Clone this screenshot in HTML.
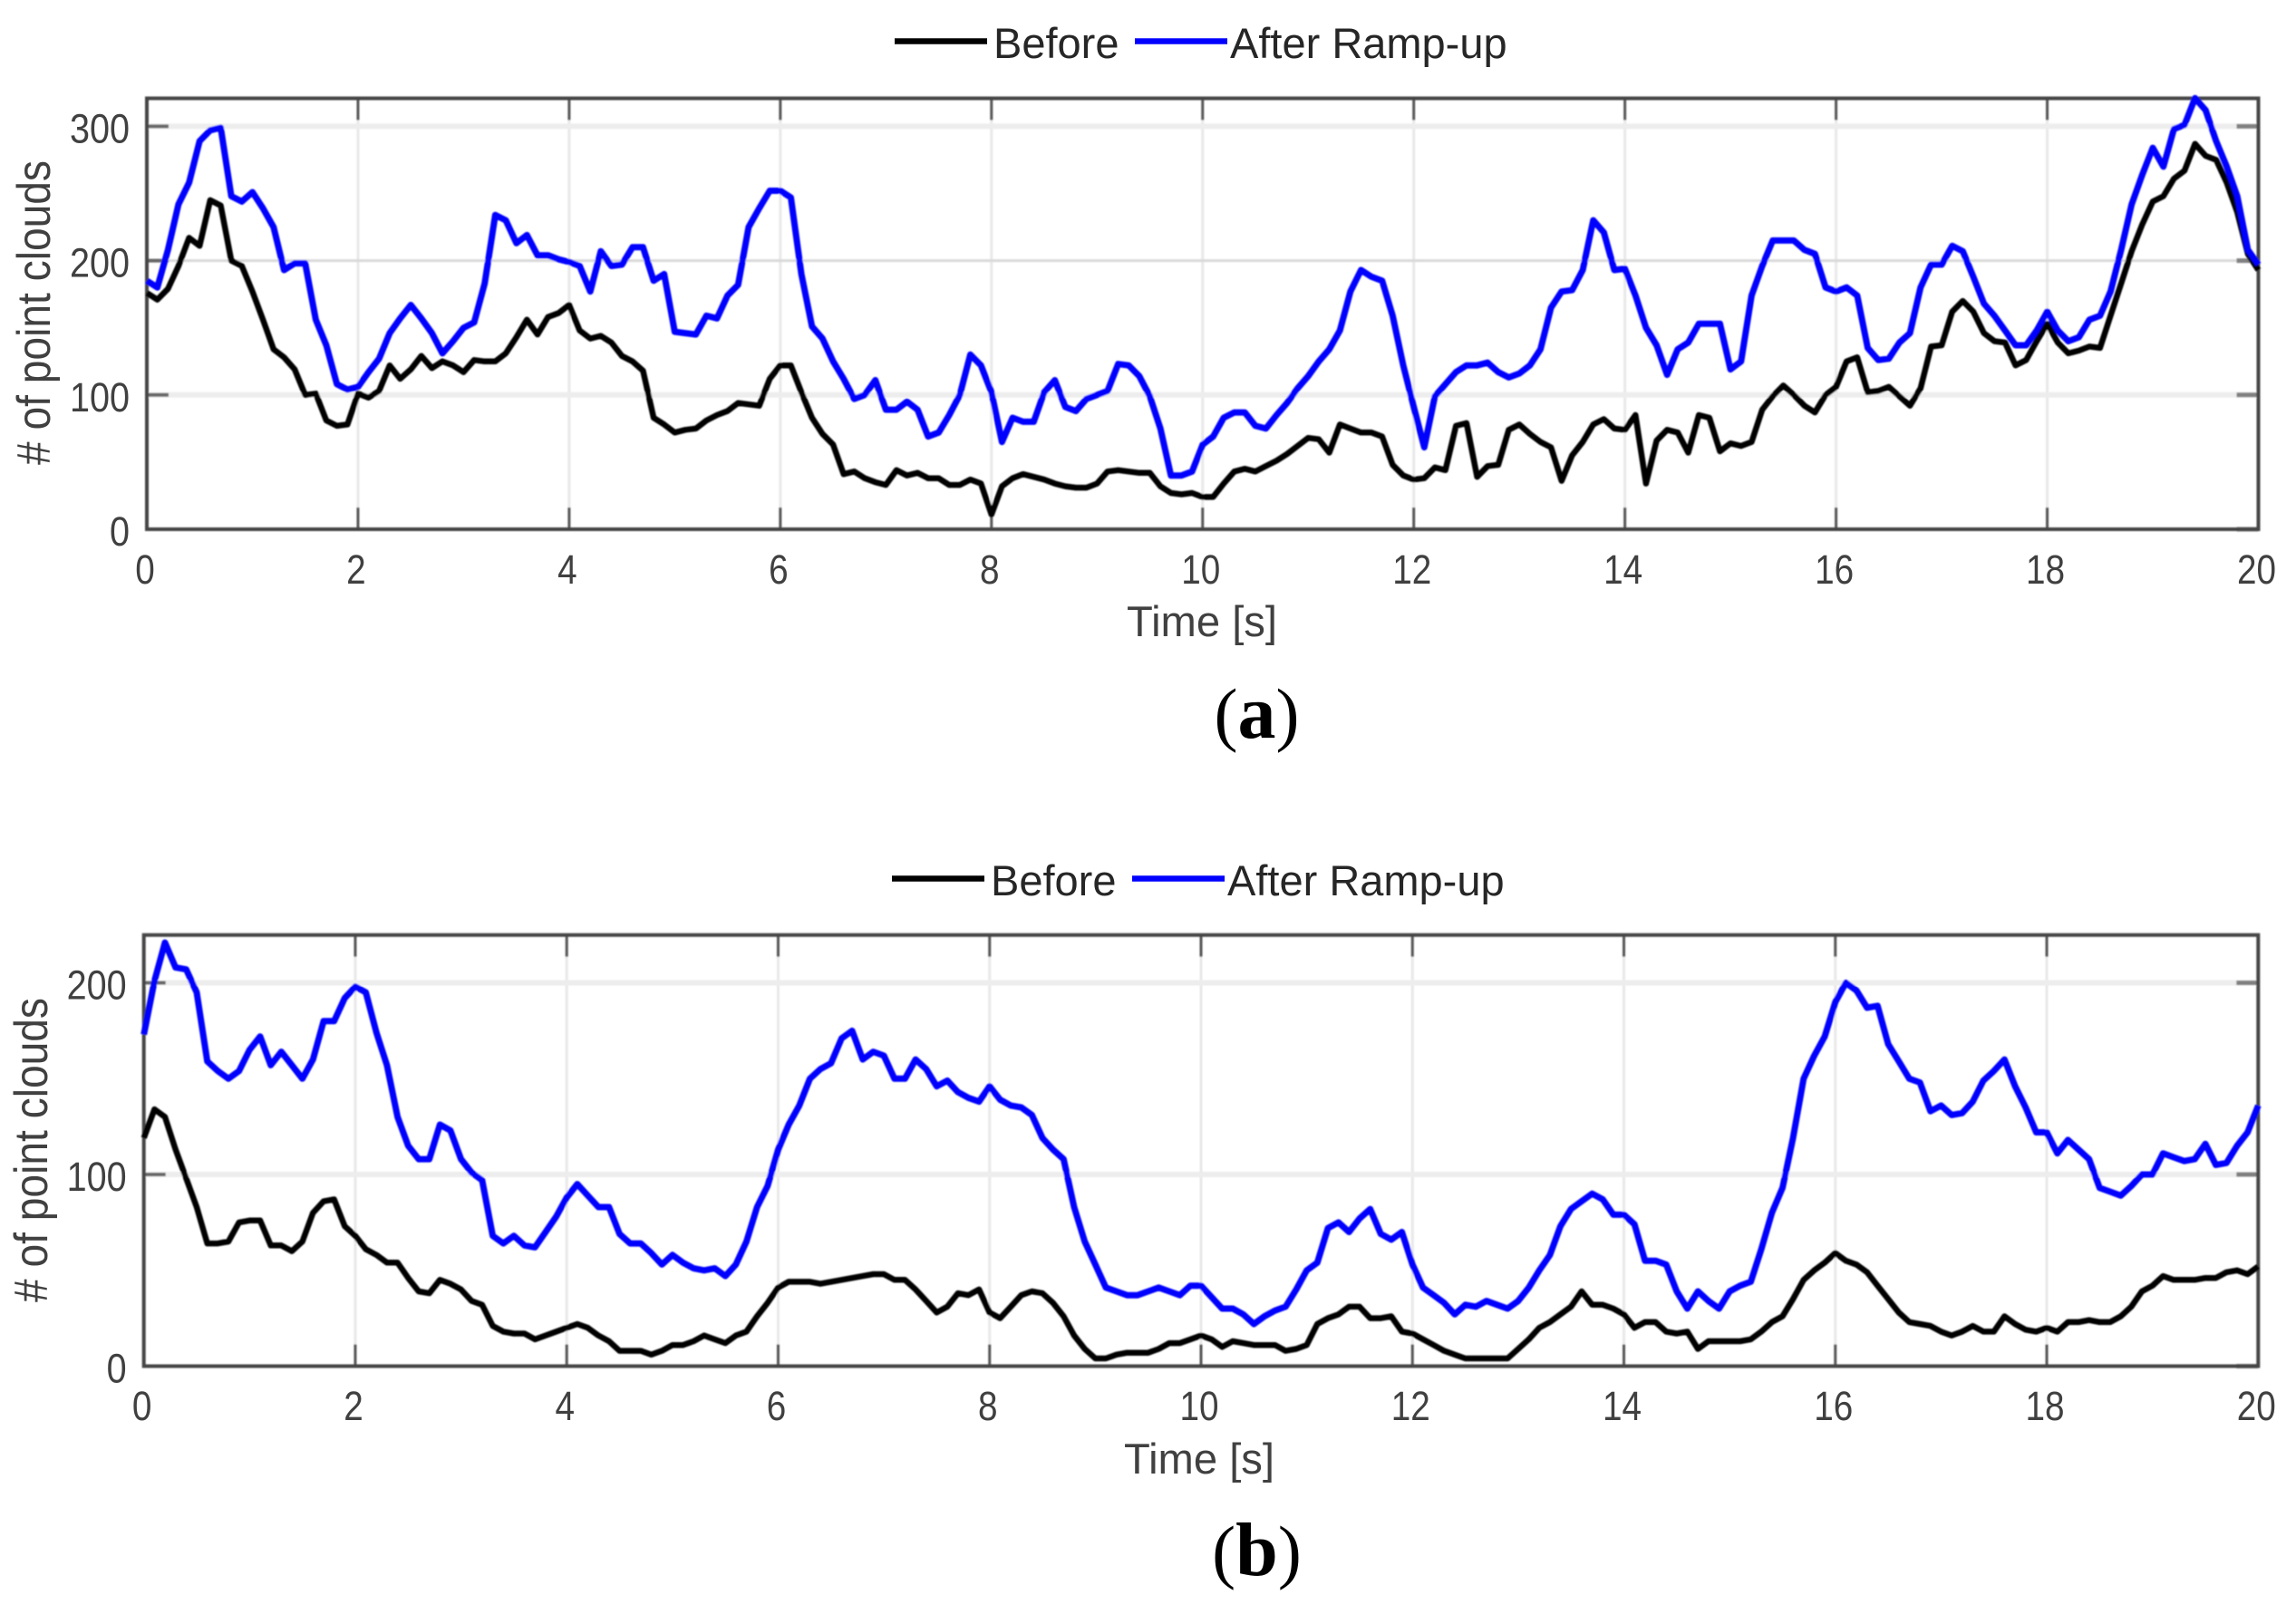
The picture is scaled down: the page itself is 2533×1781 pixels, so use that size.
<!DOCTYPE html>
<html lang="en">
<head>
<meta charset="utf-8">
<title>Point clouds before and after ramp-up</title>
<style>
html,body{margin:0;padding:0;background:#fff;}
svg{display:block;}
text{font-family:"Liberation Sans",sans-serif;}
</style>
</head>
<body>
<svg id="chart" xmlns="http://www.w3.org/2000/svg" width="2533" height="1781" viewBox="0 0 2533 1781">
<defs><filter id="soft" x="-2%" y="-2%" width="104%" height="104%"><feGaussianBlur stdDeviation="0.7"/></filter></defs>
<rect x="0" y="0" width="2533" height="1781" fill="#ffffff"/>
</svg>
<script>
const sampleStep = 0.1;
const xTicks = [0,2,4,6,8,10,12,14,16,18,20];
const yTicksA = [0,100,200,300];
const yTicksB = [0,100,200];
const seriesNames = ['Before','After Ramp-up'];

const beforeA = [
176,171,179,196,217,211,245,241,200,196,
177,156,134,128,119,100,101,81,77,78,
101,98,103,122,112,119,129,120,125,122,
117,126,125,125,131,143,156,145,158,161,
167,148,142,144,139,129,125,118,83,78,
72,74,75,81,85,88,94,93,92,112,
122,122,102,83,71,63,41,43,38,35,
33,44,40,42,38,38,33,33,37,34,
11,32,38,41,39,37,34,32,31,31,
34,43,44,43,42,42,32,27,26,27,
24,24,34,43,45,43,47,51,56,62,
68,67,57,78,75,72,72,69,48,40,
37,38,46,44,77,79,39,47,48,74,
78,71,65,61,36,55,65,78,82,75,
74,85,34,66,74,72,57,85,83,58,
64,62,65,89,99,107,100,92,87,100,
106,125,128,102,103,106,99,92,105,136,
137,162,170,162,146,140,139,122,126,140,
153,139,131,133,136,135,159,183,207,227,
244,248,261,267,287,278,275,258,236,205,
193];

const afterA = [
185,180,208,242,258,289,297,299,248,244,
251,239,225,193,198,198,156,137,108,104,
106,117,127,146,157,167,157,146,131,140,
150,154,183,234,230,213,219,204,204,201,
199,196,177,207,196,197,210,210,185,190,
147,146,145,159,157,174,182,225,239,252,
252,247,190,151,142,125,112,97,100,111,
89,89,95,89,69,72,85,100,130,122,
102,65,83,80,80,102,111,91,88,97,
100,103,123,122,114,99,75,40,40,43,
63,69,83,87,87,77,75,85,94,105,
114,125,134,148,177,193,188,185,159,122,
91,61,99,108,117,122,122,124,117,113,
116,122,134,165,177,178,193,230,221,193,
194,174,150,137,115,134,139,153,153,153,
119,125,174,196,215,215,215,208,205,180,
177,180,174,135,126,127,139,146,180,197,
197,211,207,188,168,159,148,137,137,148,
162,148,140,143,156,159,177,208,242,264,
284,270,298,301,321,312,289,270,248,208,
197];

const beforeB = [
119,134,130,113,98,83,64,64,65,75,
76,76,63,63,60,65,80,86,87,73,
68,61,58,54,54,46,39,38,45,43,
40,34,32,21,18,17,17,14,16,18,
20,22,20,16,13,8,8,8,6,8,
11,11,13,16,14,12,16,18,26,33,
41,44,44,44,43,44,45,46,47,48,
48,45,45,40,34,28,31,38,37,40,
28,25,31,37,39,38,33,26,16,9,
4,4,6,7,7,7,9,12,12,14,
16,14,10,13,12,11,11,11,8,9,
11,22,25,27,31,31,25,25,26,18,
17,14,11,8,6,4,4,4,4,4,
9,14,20,23,27,31,39,32,32,30,
27,20,23,23,18,17,18,9,13,13,
13,13,14,18,23,26,35,45,50,54,
59,55,53,49,42,35,28,23,22,21,
18,16,18,21,18,18,26,22,19,18,
20,18,23,23,24,23,23,26,31,39,
42,47,45,45,45,46,46,49,50,48,
52];

const afterB = [
173,201,221,208,207,195,159,154,150,154,
165,172,157,164,157,150,160,180,180,192,
198,195,174,157,130,115,108,108,126,123,
108,101,97,68,64,68,63,62,70,78,
88,95,89,83,83,69,64,64,59,53,
58,54,51,50,51,47,53,65,83,94,
113,126,136,150,155,158,171,175,160,164,
162,150,150,160,155,146,149,143,140,138,
146,139,136,135,131,119,113,108,83,65,
53,41,39,37,37,39,41,39,37,42,
42,36,30,30,27,22,26,29,31,40,
50,54,72,75,70,77,82,69,66,70,
53,41,37,33,27,32,31,34,32,30,
34,41,50,58,73,82,86,90,87,79,
79,74,55,55,53,39,30,39,34,30,
39,42,44,61,80,93,119,150,162,172,
190,200,196,187,188,168,159,150,148,133,
136,131,132,138,149,154,160,146,135,122,
122,111,118,113,108,93,91,89,94,100,
100,111,109,107,108,116,105,106,115,122,
136];

const svgNS = 'http://www.w3.org/2000/svg';
const root = document.getElementById('chart');

function add(parent, tag, attrs, text) {
  const el = document.createElementNS(svgNS, tag);
  for (const k in attrs) el.setAttribute(k, attrs[k]);
  if (text !== undefined) el.textContent = text;
  parent.appendChild(el);
  return el;
}

function drawPanel(p) {
  const g = add(root, 'g', {});
  
  

  const xScale = t => p.left + (t - 0) / 20 * (p.right - p.left);
  const yScale = v => p.zeroY - v * p.pxPerUnit;

  const art = add(g, 'g', {filter: 'url(#soft)'});
  
  

  // grid lines
  xTicks.forEach(t => {
    const line = add(art, 'line', {x1: xScale(t), x2: xScale(t), y1: p.top, y2: p.zeroY, stroke: '#e8e8e8', 'stroke-width': 3});
    
    
  });
  p.yTicks.forEach(v => {
    if (v === 0) return;
    const thin = p.id === 'a' && v === 200;
    const line = add(art, 'line', {x1: p.left, x2: p.right, y1: yScale(v), y2: yScale(v), stroke: thin ? '#d9d9d9' : '#ededed', 'stroke-width': thin ? 3 : 6});
    
    
  });

  // ticks
  xTicks.forEach(t => {
    const top = add(art, 'line', {x1: xScale(t), x2: xScale(t), y1: p.top, y2: p.top + 24, stroke: '#555555', 'stroke-width': 3});
    
    
    const bottom = add(art, 'line', {x1: xScale(t), x2: xScale(t), y1: p.zeroY, y2: p.zeroY - 24, stroke: '#555555', 'stroke-width': 3});
    
    
  });
  p.yTicks.forEach(v => {
    const left = add(art, 'line', {x1: p.left, x2: p.left + 24, y1: yScale(v), y2: yScale(v), stroke: '#666666', 'stroke-width': 4});
    
    
    const right = add(art, 'line', {x1: p.right, x2: p.right - 24, y1: yScale(v), y2: yScale(v), stroke: '#808080', 'stroke-width': 5});
    
    
  });

  // frame
  const frame = add(art, 'path', {d: 'M' + p.left + ' ' + p.zeroY + 'V' + p.top + 'H' + p.right + 'V' + p.zeroY + 'Z', fill: 'none', stroke: '#444444', 'stroke-width': 4});
  
  

  // series
  const toPath = values => values.map((v, i) => (i ? 'L' : 'M') + xScale(i * sampleStep).toFixed(1) + ' ' + yScale(v).toFixed(1)).join('');
  const beforeLine = add(art, 'path', {d: toPath(p.before), fill: 'none', stroke: '#000000', 'stroke-width': 6.5, 'stroke-linejoin': 'round'});
  
  
  const afterLine = add(art, 'path', {d: toPath(p.after), fill: 'none', stroke: '#0000ff', 'stroke-width': 7, 'stroke-linejoin': 'round'});
  
  

  // tick labels
  xTicks.forEach(t => {
    const label = add(g, 'text', {transform: 'translate(' + (xScale(t) - 2) + ' ' + p.xLabelY + ') scale(0.86 1)', 'text-anchor': 'middle', 'font-size': 45, fill: '#404040'}, String(t));
    
    
  });
  p.yTicks.forEach(v => {
    const label = add(g, 'text', {transform: 'translate(' + (p.left - 19) + ' ' + (yScale(v) + 18) + ') scale(0.88 1)', 'text-anchor': 'end', 'font-size': 45, fill: '#404040'}, String(v));
    
    
  });

  // axis titles
  const yTitle = add(g, 'text', {transform: 'translate(' + p.yTitleX + ' ' + p.yTitleY + ') rotate(-90)', 'font-size': 52, fill: '#404040', textLength: 336, lengthAdjust: 'spacingAndGlyphs'}, '# of point clouds');
  
  
  const xTitle = add(g, 'text', {x: 1243 + p.dx, y: 702 + p.dy, 'font-size': 47, fill: '#404040', textLength: 166, lengthAdjust: 'spacingAndGlyphs'}, 'Time [s]');
  
  

  // legend
  const legend = add(g, 'g', {});
  
  
  const sw1 = add(legend, 'line', {x1: 987 + p.dx, x2: 1089 + p.dx, y1: 45.5 + p.dy, y2: 45.5 + p.dy, stroke: '#000000', 'stroke-width': 6.5});
  
  
  const t1 = add(legend, 'text', {x: 1096 + p.dx, y: 64 + p.dy, 'font-size': 47, fill: '#262626'}, seriesNames[0]);
  
  
  const sw2 = add(legend, 'line', {x1: 1252 + p.dx, x2: 1354 + p.dx, y1: 45.5 + p.dy, y2: 45.5 + p.dy, stroke: '#0000ff', 'stroke-width': 6.5});
  
  
  const t2 = add(legend, 'text', {x: 1357 + p.dx, y: 64 + p.dy, 'font-size': 47, fill: '#262626'}, seriesNames[1]);
  
  

  // caption
  const cap = add(g, 'text', {x: 1386.5, y: p.captionY, 'text-anchor': 'middle', 'font-size': 78, fill: '#000000', style: 'font-family:"Liberation Serif",serif'});
  
  
  add(cap, 'tspan', {}, '(');
  add(cap, 'tspan', {'font-weight': 'bold', 'font-size': 84}, p.id);
  add(cap, 'tspan', {}, ')');
}

drawPanel({id: 'a', left: 162, right: 2491.5, top: 108.5, zeroY: 584, pxPerUnit: 1.482,
  yTicks: yTicksA, before: beforeA, after: afterA, xLabelY: 644, yTitleX: 55, yTitleY: 513,
  dx: 0, dy: 0, captionY: 814});
drawPanel({id: 'b', left: 158.7, right: 2491.3, top: 1031.7, zeroY: 1507.5, pxPerUnit: 2.115,
  yTicks: yTicksB, before: beforeB, after: afterB, xLabelY: 1567, yTitleX: 52, yTitleY: 1437,
  dx: -3, dy: 924, captionY: 1738});
</script>
</body>
</html>
